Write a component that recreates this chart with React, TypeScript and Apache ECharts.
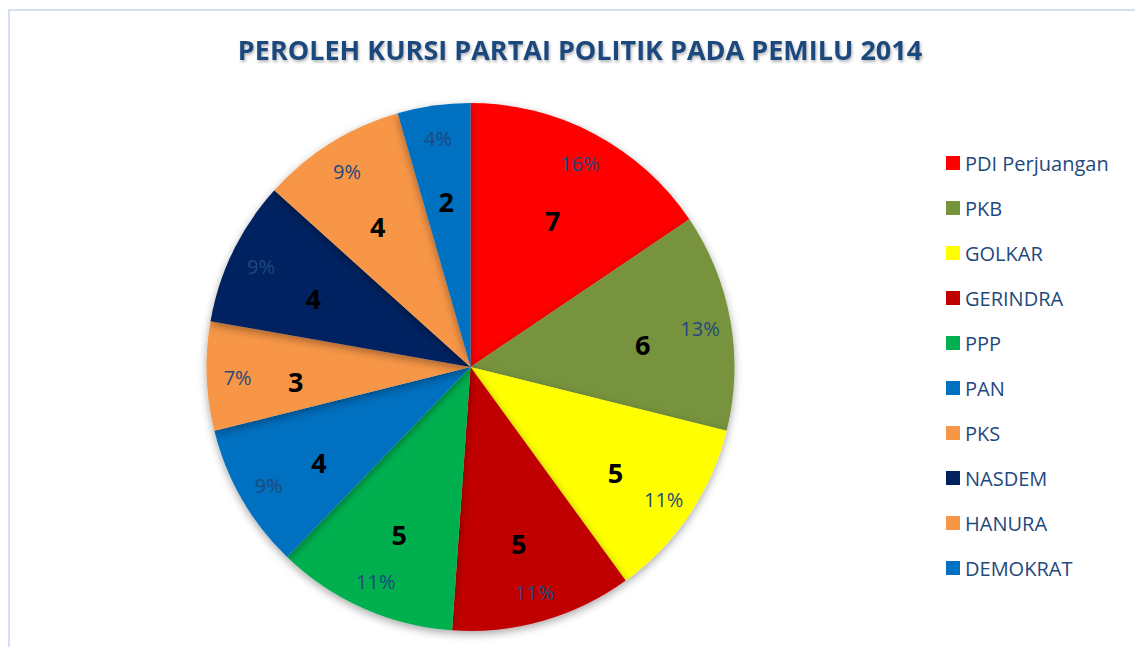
import React, { useEffect, useRef } from "react";
import * as echarts from "echarts";

const titleText = "PEROLEH KURSI PARTAI POLITIK PADA PEMILU 2014";
const parties = ["PDI Perjuangan", "PKB", "GOLKAR", "GERINDRA", "PPP", "PAN", "PKS", "NASDEM", "HANURA", "DEMOKRAT"];
const seats = [7, 6, 5, 5, 5, 4, 3, 4, 4, 2];
const colors = ["#FF0000", "#77933C", "#FFFF00", "#C00000", "#00B050", "#0070C0", "#F79646", "#002060", "#F79646", "#0070C0"];

const FONT = "'Open Sans', 'Noto Sans', sans-serif";
const TEXT_BLUE = "#1F497D";

export default function App() {
  const ref = useRef<HTMLDivElement>(null);
  useEffect(() => {
    if (!ref.current) return;
    const chart = echarts.init(ref.current, undefined, { renderer: "svg" });
    const center = [462.5, 359];
    const mainData = parties.map((n, i) => ({ name: n, value: seats[i], itemStyle: { color: colors[i] } }));
    const ghostData = parties.map((n, i) => ({ name: n, value: seats[i], itemStyle: { color: "rgba(0,0,0,0)" } }));
    chart.setOption({
      animation: false,
      backgroundColor: "#ffffff",
      title: {
        text: titleText,
        left: 567,
        top: 23,
        textAlign: "center",
        textStyle: {
          fontFamily: FONT,
          fontWeight: "bold",
          fontSize: 27,
          color: TEXT_BLUE,
          textShadowColor: "rgba(0,0,0,0.3)",
          textShadowBlur: 3,
          textShadowOffsetX: 1,
          textShadowOffsetY: 2,
        },
      },
      legend: {
        orient: "vertical",
        left: 933,
        top: 140,
        itemWidth: 14,
        itemHeight: 14,
        itemGap: 25,
        icon: "rect",
        data: parties.map((n, i) => ({ name: n, itemStyle: { color: colors[i] } })),
        textStyle: { fontFamily: FONT, fontSize: 20, lineHeight: 20, color: TEXT_BLUE },
        selectedMode: false,
      },
      graphic: [
        {
          type: "rect",
          shape: { x: 1, y: 2, width: 1132, height: 700 },
          style: { fill: "none", stroke: "#D6E0F2", lineWidth: 2 },
          silent: true,
        },
      ],
      series: [
        {
          type: "pie",
          center,
          radius: 264,
          startAngle: 90,
          clockwise: true,
          percentPrecision: 0,
          data: mainData,
          label: { show: false },
          labelLine: { show: false },
          itemStyle: { shadowBlur: 8, shadowOffsetY: 3, shadowColor: "rgba(0,0,0,0.35)" },
          emphasis: { disabled: true },
          silent: true,
        },
        {
          type: "pie",
          center,
          radius: [152, 192],
          startAngle: 90,
          clockwise: true,
          data: ghostData,
          label: {
            show: true,
            position: "inside",
            formatter: "{c}",
            fontFamily: FONT,
            fontWeight: "bold",
            fontSize: 27,
            color: "#000000",
            offset: [0, 8],
          },
          labelLine: { show: false },
          emphasis: { disabled: true },
          silent: true,
          z: 3,
        },
        {
          type: "pie",
          center,
          radius: [214, 246],
          startAngle: 90,
          clockwise: true,
          percentPrecision: 0,
          data: ghostData,
          label: {
            show: true,
            position: "inside",
            formatter: "{d}%",
            fontFamily: FONT,
            fontSize: 20,
            color: TEXT_BLUE,
            offset: [0, 2],
          },
          labelLine: { show: false },
          emphasis: { disabled: true },
          silent: true,
          z: 3,
        },
      ],
    });
    return () => chart.dispose();
  }, []);
  return <div ref={ref} style={{ width: 1135, height: 639 }} />;
}
